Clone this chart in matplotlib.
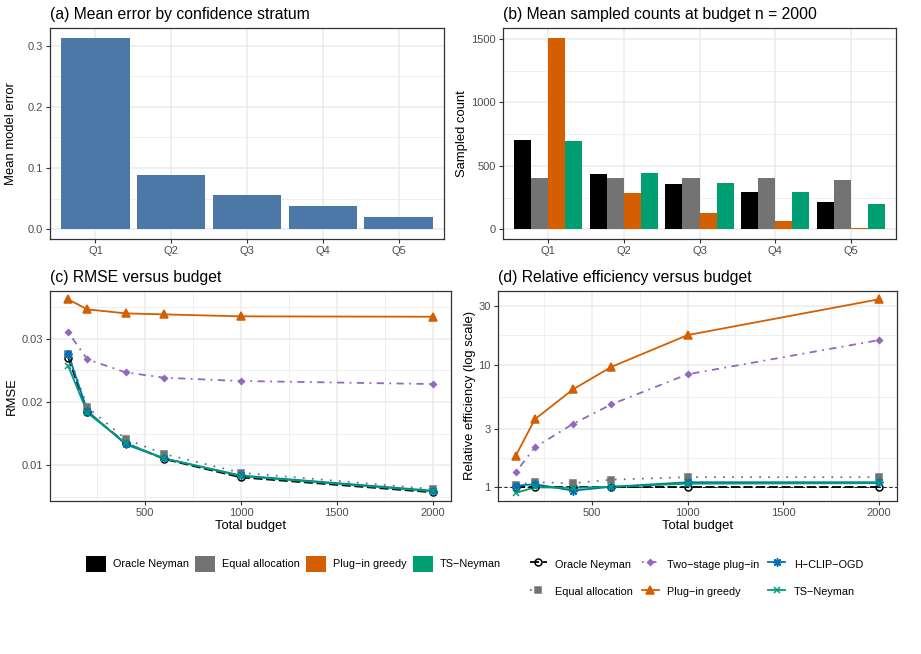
import matplotlib.pyplot as plt
import numpy as np
from matplotlib.patches import Patch
from matplotlib.lines import Line2D
from matplotlib.ticker import FixedLocator, NullFormatter, NullLocator

plt.rcParams['font.family'] = ['Liberation Sans', 'DejaVu Sans']

# (a) mean model error by stratum
strata = ['Q1', 'Q2', 'Q3', 'Q4', 'Q5']
mean_error = [0.313, 0.0886, 0.056, 0.038, 0.020]

# (b) mean sampled counts at n = 2000
counts_oracle = [703, 436, 358, 295, 217]
counts_equal = [402, 402, 402, 402, 389]
counts_plugin = [1510, 287, 131, 63, 13]
counts_ts = [695, 444, 366, 295, 201]

# (c) RMSE versus budget
budgets = [100, 200, 400, 600, 1000, 2000]
rmse_oracle = [0.0270, 0.01837, 0.01353, 0.0110, 0.0081, 0.00574]
rmse_equal = [0.0276, 0.01916, 0.01416, 0.01179, 0.00884, 0.00626]
rmse_twostage = [0.0310, 0.02674, 0.02468, 0.02384, 0.02332, 0.02284]
rmse_plugin = [0.0362, 0.03463, 0.0340, 0.03384, 0.03353, 0.03347]
rmse_hclip = [0.02758, 0.0186, 0.0133, 0.0111, 0.0084, 0.0060]
rmse_ts = [0.02568, 0.0183, 0.0135, 0.0111, 0.0083, 0.0059]

# (d) relative efficiency versus budget
re_oracle = [1, 1, 1, 1, 1, 1]
re_equal = [1.05, 1.10, 1.08, 1.155, 1.21, 1.21]
re_twostage = [1.33, 2.12, 3.29, 4.74, 8.34, 15.8]
re_plugin = [1.815, 3.59, 6.29, 9.57, 17.4, 34.0]
re_hclip = [1.03, 1.06, 0.94, 1.01, 1.10, 1.10]
re_ts = [0.90, 1.00, 0.99, 1.01, 1.07, 1.08]

bar_names = ['Oracle Neyman', 'Equal allocation', 'Plug\u2212in greedy', 'TS\u2212Neyman']
bar_cols = ['#000000', '#737373', '#D55E00', '#009E73']

line_names = ['Oracle Neyman', 'Equal allocation', 'Two\u2212stage plug\u2212in',
              'Plug\u2212in greedy', 'H\u2212CLIP\u2212OGD', 'TS\u2212Neyman']
line_cols = ['#000000', '#737373', '#9467BD', '#D55E00', '#0072B2', '#009E73']
line_styles = [(0, (5, 2)), (0, (1, 4)), (0, (1, 3, 4, 3)), '-', '-', '-']
line_marks = ['o', 's', 'D', '^', (8, 2, 0), 'x']
mark_sizes = [5, 5, 3, 5.5, 6, 5]

grid_col = '#EBEBEB'
txt_col = '#4D4D4D'


def style_axes(ax):
    for s in ax.spines.values():
        s.set_color('#333333')
        s.set_linewidth(0.9)
    ax.tick_params(which='major', length=3, width=0.8, color='#333333',
                   labelsize=8, labelcolor=txt_col, pad=2)
    ax.tick_params(which='minor', length=0)
    ax.grid(which='major', color=grid_col, linewidth=1.1)
    ax.grid(which='minor', color=grid_col, linewidth=0.55)
    ax.set_axisbelow(True)


fig = plt.figure(figsize=(9.21, 6.54), dpi=100)

ax_a = fig.add_axes([0.05429, 0.63456, 0.42780, 0.32263])
ax_b = fig.add_axes([0.54615, 0.63456, 0.42671, 0.32263])
ax_c = fig.add_axes([0.05429, 0.23440, 0.43540, 0.32110])
ax_d = fig.add_axes([0.54039, 0.23440, 0.43322, 0.32110])

# (a)
x = np.arange(len(strata))
ax_a.bar(x, mean_error, width=0.9, color='#4C78A8')
ax_a.set_xlim(-0.6, 4.6)
ax_a.set_ylim(-0.0157, 0.3287)
ax_a.set_xticks(x)
ax_a.set_xticklabels(strata)
ax_a.set_yticks([0.0, 0.1, 0.2, 0.3])
ax_a.set_yticklabels(['0.0', '0.1', '0.2', '0.3'])
ax_a.yaxis.set_minor_locator(FixedLocator([0.05, 0.15, 0.25]))
ax_a.xaxis.set_minor_locator(NullLocator())
style_axes(ax_a)
ax_a.set_ylabel('Mean model error', fontsize=9.4)
ax_a.yaxis.set_label_coords(-0.0825, 0.5)
ax_a.set_title('(a) Mean error by confidence stratum', loc='left', fontsize=11.3, pad=6.5)

# (b)
w = 0.225
all_counts = [counts_oracle, counts_equal, counts_plugin, counts_ts]
for k, (vals, col) in enumerate(zip(all_counts, bar_cols)):
    ax_b.bar(x + (k - 1.5) * w, vals, width=w, color=col)
ax_b.set_xlim(-0.6, 4.6)
ax_b.set_ylim(-75.5, 1585.5)
ax_b.set_xticks(x)
ax_b.set_xticklabels(strata)
ax_b.set_yticks([0, 500, 1000, 1500])
ax_b.yaxis.set_minor_locator(FixedLocator([250, 750, 1250]))
ax_b.xaxis.set_minor_locator(NullLocator())
style_axes(ax_b)
ax_b.set_ylabel('Sampled count', fontsize=9.4)
ax_b.yaxis.set_label_coords(-0.0878, 0.5)
ax_b.set_title('(b) Mean sampled counts at budget n = 2000', loc='left', fontsize=11.3, pad=6.5)

# (c)
rmse_all = [rmse_oracle, rmse_equal, rmse_twostage, rmse_plugin, rmse_hclip, rmse_ts]
for vals, col, ls in zip(rmse_all, line_cols, line_styles):
    ax_c.plot(budgets, vals, color=col, linestyle=ls, linewidth=1.3, zorder=2)
for vals, col, mk, ms in zip(rmse_all, line_cols, line_marks, mark_sizes):
    face = 'none' if mk == 'o' else col
    ax_c.plot(budgets, vals, linestyle='none', marker=mk, markersize=ms,
              markerfacecolor=face, markeredgecolor=col, markeredgewidth=1.1, zorder=3)
ax_c.set_xlim(5, 2095)
ax_c.set_ylim(0.00442, 0.03758)
ax_c.set_xticks([500, 1000, 1500, 2000])
ax_c.xaxis.set_minor_locator(FixedLocator([250, 750, 1250, 1750]))
ax_c.set_yticks([0.01, 0.02, 0.03])
ax_c.set_yticklabels(['0.01', '0.02', '0.03'])
ax_c.yaxis.set_minor_locator(FixedLocator([0.005, 0.015, 0.025, 0.035]))
style_axes(ax_c)
ax_c.set_xlabel('Total budget', fontsize=9.4, labelpad=2)
ax_c.set_ylabel('RMSE', fontsize=9.4)
ax_c.yaxis.set_label_coords(-0.081, 0.5)
ax_c.set_title('(c) RMSE versus budget', loc='left', fontsize=11.3, pad=6.5)

# (d)
re_all = [re_oracle, re_equal, re_twostage, re_plugin, re_hclip, re_ts]
ax_d.axhline(1, color='#000000', linestyle=(0, (4, 3)), linewidth=0.6, zorder=1.5)
for vals, col, ls in zip(re_all, line_cols, line_styles):
    ax_d.plot(budgets, vals, color=col, linestyle=ls, linewidth=1.3, zorder=2)
for vals, col, mk, ms in zip(re_all, line_cols, line_marks, mark_sizes):
    face = 'none' if mk == 'o' else col
    ax_d.plot(budgets, vals, linestyle='none', marker=mk, markersize=ms,
              markerfacecolor=face, markeredgecolor=col, markeredgewidth=1.1, zorder=3)
ax_d.set_yscale('log')
ax_d.set_xlim(5, 2095)
ax_d.set_ylim(0.778, 40.0)
ax_d.set_xticks([500, 1000, 1500, 2000])
ax_d.xaxis.set_minor_locator(FixedLocator([250, 750, 1250, 1750]))
ax_d.yaxis.set_major_locator(FixedLocator([1, 3, 10, 30]))
ax_d.set_yticklabels(['1', '3', '10', '30'])
ax_d.yaxis.set_minor_locator(FixedLocator([np.sqrt(3), np.sqrt(30), np.sqrt(300)]))
ax_d.yaxis.set_minor_formatter(NullFormatter())
style_axes(ax_d)
ax_d.set_xlabel('Total budget', fontsize=9.4, labelpad=2)
ax_d.set_ylabel('Relative efficiency (log scale)', fontsize=9.4)
ax_d.yaxis.set_label_coords(-0.0544, 0.5)
ax_d.set_title('(d) Relative efficiency versus budget', loc='left', fontsize=11.3, pad=6.5)

# legends
fill_handles = [Patch(facecolor=c, edgecolor='none') for c in bar_cols]
fig.legend(fill_handles, bar_names, loc='center left',
           bbox_to_anchor=(86 / 921, 1 - 564 / 654), ncol=4, frameon=False,
           fontsize=7.8, handlelength=1.85, handleheight=1.85, handletextpad=0.65,
           columnspacing=0.55, borderpad=0, borderaxespad=0)

line_handles = []
for col, ls, mk, ms in zip(line_cols, line_styles, line_marks, mark_sizes):
    face = 'none' if mk == 'o' else col
    line_handles.append(Line2D([], [], color=col, linestyle=ls, linewidth=1.3,
                               marker=mk, markersize=ms, markerfacecolor=face,
                               markeredgecolor=col, markeredgewidth=1.1))
fig.legend(line_handles, line_names, loc='center left',
           bbox_to_anchor=(530 / 921, 1 - 578 / 654), ncol=3, frameon=False,
           fontsize=7.8, handlelength=1.55, handleheight=1.8, handletextpad=0.8,
           columnspacing=0.8, labelspacing=1.1, borderpad=0, borderaxespad=0)

fig.savefig('out.png', dpi=100)
